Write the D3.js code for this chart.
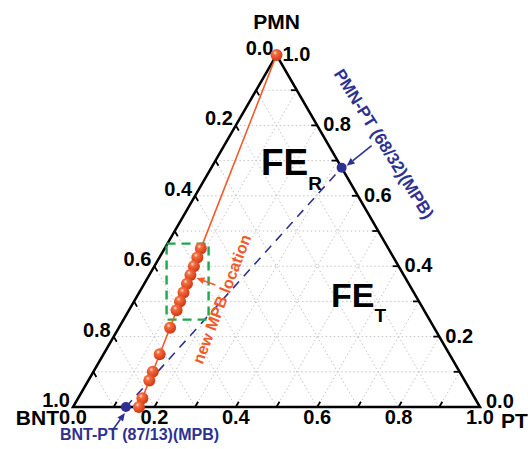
<!DOCTYPE html>
<html>
<head>
<meta charset="utf-8">
<script src="https://cdn.jsdelivr.net/npm/d3@7"></script>
<style>
  body { margin: 0; background: #fff; }
  text { font-family: "Liberation Sans", Arial, sans-serif; font-weight: bold; }
</style>
</head>
<body>
<div id="chart"></div>
<script>
// Ternary diagram BNT - PT - PMN

var svgWidth = 528;
var svgHeight = 449;

// data (fractions of PMN and PT, BNT = rest)
var chainPMN = [1.0, 0.45, 0.425, 0.40, 0.375, 0.35, 0.325, 0.30, 0.275, 0.225, 0.15, 0.10, 0.075, 0.025, 0.0];
var chainPT  = [0.0, 0.089, 0.093, 0.097, 0.101, 0.105, 0.109, 0.113, 0.117, 0.126, 0.138, 0.146, 0.150, 0.158, 0.162];

var mpbPMN = [0.0, 0.68];
var mpbPT  = [0.13, 0.32];
var mpbNames = ["BNT-PT (87/13)(MPB)", "PMN-PT (68/32)(MPB)"];

var tickValues = [0, 0.2, 0.4, 0.6, 0.8, 1.0];
var tickLabels = ["0.0", "0.2", "0.4", "0.6", "0.8", "1.0"];
var gridValues = d3.range(1, 10).map(d => d / 10);

var svg = d3.select("#chart")
  .append("svg")
  .attr("width", svgWidth)
  .attr("height", svgHeight);

// scales: x from (PT + PMN/2), y from PMN
var xScale = d3.scaleLinear().domain([0, 1]).range([73, 480]);
var yScale = d3.scaleLinear().domain([0, 1]).range([407, 55]);

function px(pt, pmn) { return xScale(pt + pmn / 2); }
function py(pt, pmn) { return yScale(pmn); }

var orange = "#f15a29";
var blue = "#2e3192";

var defs = svg.append("defs");
var grad = defs.append("radialGradient")
  .attr("id", "ball")
  .attr("cx", "38%").attr("cy", "32%").attr("r", "68%");
grad.append("stop").attr("offset", "0%").attr("stop-color", "#ffe6d8");
grad.append("stop").attr("offset", "25%").attr("stop-color", "#f56d40");
grad.append("stop").attr("offset", "100%").attr("stop-color", "#cf3612");

// grid
var grid = svg.append("g")
  .attr("stroke", "#c4c4c4")
  .attr("stroke-width", 1)
  .attr("stroke-dasharray", "1.5,2.5")
  .attr("fill", "none");

gridValues.forEach(function(v) {
  // constant PMN
  grid.append("line")
    .attr("x1", px(0, v)).attr("y1", py(0, v))
    .attr("x2", px(1 - v, v)).attr("y2", py(1 - v, v));
  // constant PT
  grid.append("line")
    .attr("x1", px(v, 0)).attr("y1", py(v, 0))
    .attr("x2", px(v, 1 - v)).attr("y2", py(v, 1 - v));
  // constant BNT
  grid.append("line")
    .attr("x1", px(1 - v, 0)).attr("y1", py(1 - v, 0))
    .attr("x2", px(0, 1 - v)).attr("y2", py(0, 1 - v));
});

// triangle frame
svg.append("path")
  .attr("d", d3.line()([[px(0, 0), py(0, 0)], [px(1, 0), py(1, 0)], [px(0, 1), py(0, 1)]]) + "Z")
  .attr("fill", "none")
  .attr("stroke", "#000")
  .attr("stroke-width", 2.5)
  .attr("stroke-linejoin", "miter");

// ticks (along the grid lines, pointing inward)
var tickLen = 6;
var ticks = svg.append("g").attr("stroke", "#000").attr("stroke-width", 1.8);
gridValues.forEach(function(v) {
  // base (PT)
  ticks.append("line")
    .attr("x1", px(v, 0)).attr("y1", py(v, 0))
    .attr("x2", px(v, 0) + tickLen * 0.5).attr("y2", py(v, 0) - tickLen * 0.866);
  // left (BNT)
  ticks.append("line")
    .attr("x1", px(0, 1 - v)).attr("y1", py(0, 1 - v))
    .attr("x2", px(0, 1 - v) + tickLen * 0.5).attr("y2", py(0, 1 - v) + tickLen * 0.866);
  // right (PMN)
  ticks.append("line")
    .attr("x1", px(1 - v, v)).attr("y1", py(1 - v, v))
    .attr("x2", px(1 - v, v) - tickLen).attr("y2", py(1 - v, v));
});

// tick labels
var labels = svg.append("g").attr("font-size", 20).attr("fill", "#000");
tickValues.forEach(function(v, i) {
  // base: PT fraction
  labels.append("text")
    .attr("x", px(v, 0)).attr("y", py(v, 0) + 17)
    .attr("text-anchor", "middle")
    .text(tickLabels[i]);
  // left: BNT fraction
  labels.append("text")
    .attr("x", px(0, 1 - v) - 3).attr("y", py(0, 1 - v) - 7)
    .attr("text-anchor", "end")
    .attr("dy", "0.35em")
    .text(tickLabels[i]);
  // right: PMN fraction
  labels.append("text")
    .attr("x", px(1 - v, v) + 6).attr("y", py(1 - v, v) - (v === 0 ? 6 : 1))
    .attr("dy", "0.35em")
    .text(tickLabels[i]);
});

// vertex names
var names = svg.append("g").attr("font-size", 21).attr("fill", "#000");
names.append("text").attr("x", px(0, 1)).attr("y", 29).attr("text-anchor", "middle").text("PMN");
names.append("text").attr("x", 59).attr("y", 425).attr("text-anchor", "end").text("BNT");
names.append("text").attr("x", 501).attr("y", 428).text("PT");

// phase region labels
function phaseLabel(x, y, sub, size, subSize) {
  var t = svg.append("text")
    .attr("x", x).attr("y", y)
    .attr("font-size", size)
    .attr("fill", "#000");
  t.append("tspan").text("FE");
  t.append("tspan").attr("dy", 15).attr("font-size", subSize).text(sub);
}
phaseLabel(261, 175, "R", 37, 19);
phaseLabel(331, 307, "T", 34, 19);

// MPB dashed line
var mpbLine = d3.line()
  .x((d, i) => px(mpbPT[i], mpbPMN[i]))
  .y((d, i) => py(mpbPT[i], mpbPMN[i]));

svg.append("path")
  .datum(mpbPT)
  .attr("d", mpbLine)
  .attr("fill", "none")
  .attr("stroke", blue)
  .attr("stroke-width", 1.6)
  .attr("stroke-dasharray", "9,7");

svg.append("g")
  .selectAll("circle")
  .data(mpbPT)
  .enter()
  .append("circle")
  .attr("cx", (d, i) => px(mpbPT[i], mpbPMN[i]))
  .attr("cy", (d, i) => py(mpbPT[i], mpbPMN[i]))
  .attr("r", 5)
  .attr("fill", blue);

// green dashed box around new MPB region
svg.append("rect")
  .attr("x", px(chainPT[8], chainPMN[8]) - 10)
  .attr("y", py(chainPT[1], chainPMN[1]) - 5)
  .attr("width", 42)
  .attr("height", 76)
  .attr("fill", "none")
  .attr("stroke", "#1ba94c")
  .attr("stroke-width", 2.4)
  .attr("stroke-dasharray", "9,6");

// chain line + balls
var chainLine = d3.line()
  .x((d, i) => px(chainPT[i], chainPMN[i]))
  .y((d, i) => py(chainPT[i], chainPMN[i]));

svg.append("path")
  .datum(chainPT)
  .attr("d", chainLine)
  .attr("fill", "none")
  .attr("stroke", orange)
  .attr("stroke-width", 1.6);

svg.append("g")
  .selectAll("circle")
  .data(chainPT)
  .enter()
  .append("circle")
  .attr("cx", (d, i) => px(chainPT[i], chainPMN[i]))
  .attr("cy", (d, i) => py(chainPT[i], chainPMN[i]))
  .attr("r", 6)
  .attr("fill", "url(#ball)");

// arrows
function arrow(x1, y1, x2, y2, color) {
  var ang = Math.atan2(y2 - y1, x2 - x1);
  var hl = 8, hw = 3.5;
  var bx = x2 - hl * Math.cos(ang), by = y2 - hl * Math.sin(ang);
  svg.append("line")
    .attr("x1", x1).attr("y1", y1).attr("x2", bx).attr("y2", by)
    .attr("stroke", color).attr("stroke-width", 1.6);
  svg.append("path")
    .attr("d", "M" + x2 + "," + y2 +
      "L" + (bx - hw * Math.sin(ang)) + "," + (by + hw * Math.cos(ang)) +
      "L" + (bx + hw * Math.sin(ang)) + "," + (by - hw * Math.cos(ang)) + "Z")
    .attr("fill", color);
}

var a4x = px(chainPT[4], chainPMN[4]), a4y = py(chainPT[4], chainPMN[4]);
arrow(a4x + 25, a4y + 10, a4x + 6, a4y + 3, orange);

var m1x = px(mpbPT[1], mpbPMN[1]), m1y = py(mpbPT[1], mpbPMN[1]);
arrow(m1x + 30, m1y - 22, m1x + 5, m1y - 2, blue);

var m0x = px(mpbPT[0], mpbPMN[0]), m0y = py(mpbPT[0], mpbPMN[0]);
arrow(m0x - 14, m0y + 24, m0x - 1, m0y + 6, blue);

// annotation texts
svg.append("text")
  .attr("transform", "translate(227,301) rotate(-69)")
  .attr("text-anchor", "middle")
  .attr("font-size", 16)
  .attr("fill", orange)
  .text("new MPB location");

svg.append("text")
  .attr("transform", "translate(379,147) rotate(58)")
  .attr("text-anchor", "middle")
  .attr("font-size", 17)
  .attr("fill", blue)
  .text(mpbNames[1]);

svg.append("text")
  .attr("x", 60).attr("y", 440)
  .attr("font-size", 16)
  .attr("fill", blue)
  .text(mpbNames[0]);
</script>
</body>
</html>
